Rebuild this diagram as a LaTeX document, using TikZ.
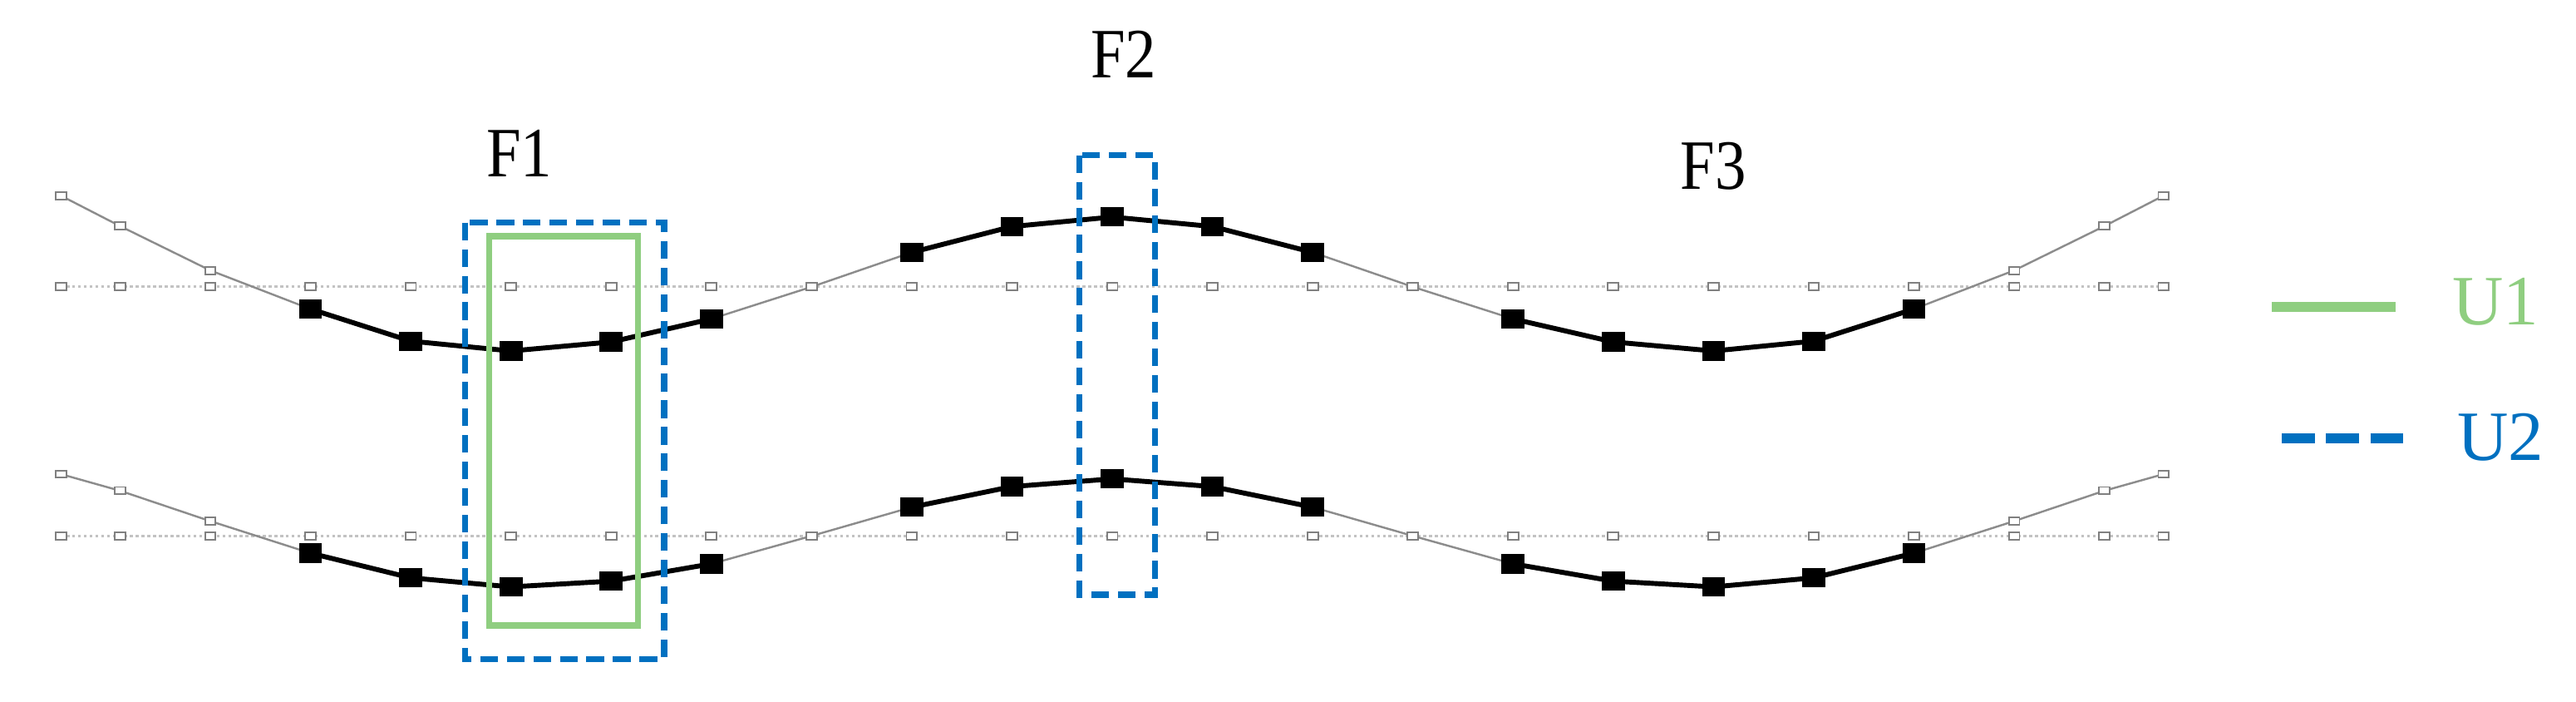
\documentclass[tikz,border=0pt]{standalone}
\usepackage{fontspec}
\setmainfont{Liberation Serif}
\definecolor{ugreen}{RGB}{143,206,128}
\definecolor{ublue}{RGB}{0,112,192}
\definecolor{thin}{RGB}{140,140,140}
\definecolor{dotc}{RGB}{195,195,195}
\begin{document}
\begin{tikzpicture}[x=0.02cm,y=-0.02cm,
  blk/.style={rectangle,fill=black,draw=none,minimum width=0.28cm,minimum height=0.235cm,inner sep=0pt},
  opn/.style={rectangle,fill=white,draw=gray,line width=0.55pt,minimum width=0.13cm,minimum height=0.09cm,inner sep=0pt},
  gridline/.style={draw=dotc,line width=0.8pt,dash pattern=on 1pt off 1pt},
  thinline/.style={draw=thin,line width=0.7pt},
  thickline/.style={draw=black,line width=1.7pt},
  boxgreen/.style={draw=ugreen,line width=2.1pt},
  boxblue/.style={draw=ublue,line width=2.1pt,dash pattern=on 6.1pt off 3.1pt},
  lbl/.style={font=\fontsize{24.5}{30}\selectfont,inner sep=0pt,anchor=base}]
\useasboundingbox (0,0) rectangle (1568,426.6);
% coordinates
\foreach \i/\x/\yt/\yb in {0/37/119/288.4,1/73/137.5/298.5,2/128/164.5/317,3/189/188/336.5,
  4/250/207.5/351.5,5/311/213.5/357,6/372/208/353.5,7/433/194/343,8/494/174.5/326,
  9/555/153.5/308.5,10/616/137.8/296,11/677/132/291.3,12/738/137.8/296,13/799/153.5/308.5,
  14/860/174.5/326,15/921/194/343,16/982/208/353.5,17/1043/213.5/357,18/1104/207.5/351.5,
  19/1165/188/336.5,20/1226/164.5/317,21/1281/137.5/298.5,22/1317/119/288.4}{
  \coordinate (t\i) at (\x,\yt);
  \coordinate (b\i) at (\x,\yb);
  \coordinate (gt\i) at (\x,174.5);
  \coordinate (gb\i) at (\x,326);
}
% grid lines
\draw[gridline] (gt0) -- (gt22);
\draw[gridline] (gb0) -- (gb22);
\foreach \i in {0,...,22}{
  \node[opn] (mgt\i) at (gt\i) {};
  \node[opn] (mgb\i) at (gb\i) {};
}
% thin curves
\foreach \r in {t,b}{
  \draw[thinline] (\r0) \foreach \i in {1,...,22}{ -- (\r\i)};
}
% thick parts
\foreach \r in {t,b}{
  \draw[thickline] (\r3) -- (\r4) -- (\r5) -- (\r6) -- (\r7);
  \draw[thickline] (\r9) -- (\r10) -- (\r11) -- (\r12) -- (\r13);
  \draw[thickline] (\r15) -- (\r16) -- (\r17) -- (\r18) -- (\r19);
}
% markers
\foreach \r in {t,b}{
  \foreach \i in {0,1,2,8,14,20,21,22}{ \node[opn] (o\r\i) at (\r\i) {}; }
  \foreach \i in {3,4,5,6,7,9,10,11,12,13,15,16,17,18,19}{ \node[blk] (k\r\i) at (\r\i) {}; }
}
% boxes
\draw[boxgreen] (297.8,143.7) rectangle (388.3,380.5);
\draw[boxblue] (283.1,135.4) rectangle (404.2,401);
\draw[boxblue] (657,94.4) rectangle (703,361.8);
% labels
\node[lbl,xscale=0.88] (F1) at (316,107.5) {F1};
\node[lbl,xscale=0.88] (F2) at (684,47.5) {F2};
\node[lbl,xscale=0.88] (F3) at (1043,115) {F3};
% legend
\coordinate (la) at (1383,186.7);
\coordinate (lb) at (1458,186.7);
\draw[draw=ugreen,line width=3.4pt] (la) -- (lb);
\node[lbl,text=ugreen] (U1) at (1519,197.5) {U1};
\coordinate (lc) at (1389,266.6);
\coordinate (ld) at (1462.5,266.6);
\draw[draw=ublue,line width=3.4pt,dash pattern=on 11.3pt off 4pt] (lc) -- (ld);
\node[lbl,text=ublue] (U2) at (1522,280) {U2};
\end{tikzpicture}
\end{document}
